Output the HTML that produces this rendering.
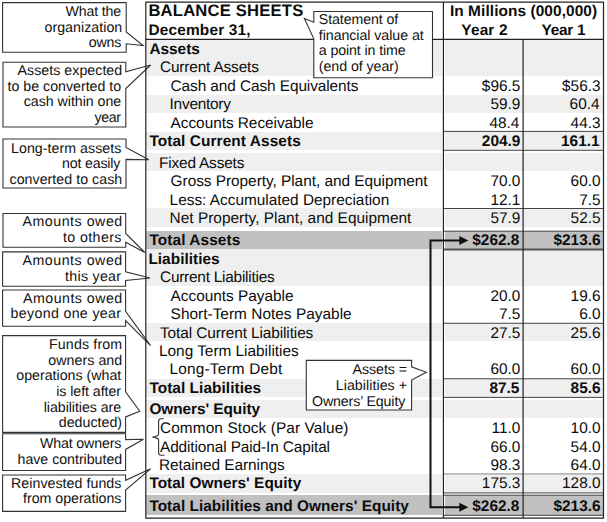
<!DOCTYPE html>
<html><head><meta charset="utf-8"><title>Balance Sheets</title>
<style>
html,body{margin:0;padding:0;background:#fff;}
body{text-rendering:geometricPrecision;width:607px;height:522px;position:relative;overflow:hidden;font-family:"Liberation Sans",sans-serif;color:#0c0c0c;}
.bg{position:absolute;left:146.4px;width:456.5px;}
.t{position:absolute;white-space:pre;font-size:15.4px;line-height:18px;height:18px;}
.b{font-weight:bold;}
.c{position:absolute;white-space:pre;font-size:14.2px;line-height:16px;height:16px;color:#111;}
svg{position:absolute;left:0;top:0;}
</style></head><body>

<div class="bg" style="top:40.0px;height:17.30px;background:#efefef"></div>
<div class="bg" style="top:57.3px;height:18.40px;background:#efefef"></div>
<div class="bg" style="top:94.6px;height:18.30px;background:#efefef"></div>
<div class="bg" style="top:131.5px;height:18.20px;background:#efefef"></div>
<div class="bg" style="top:152.8px;height:18.00px;background:#efefef"></div>
<div class="bg" style="top:208.4px;height:18.30px;background:#efefef"></div>
<div class="bg" style="top:231.25px;height:17.50px;background:#c0c0c0"></div>
<div class="bg" style="top:248.75px;height:18.75px;background:#efefef"></div>
<div class="bg" style="top:267.5px;height:18.75px;background:#efefef"></div>
<div class="bg" style="top:323.25px;height:18.00px;background:#efefef"></div>
<div class="bg" style="top:378.75px;height:18.05px;background:#efefef"></div>
<div class="bg" style="top:400px;height:18.00px;background:#efefef"></div>
<div class="bg" style="top:473.9px;height:18.70px;background:#efefef"></div>
<div class="bg" style="top:495.1px;height:20.40px;background:#c0c0c0"></div>
<div style="position:absolute;left:442.2px;top:40px;width:2.6px;height:476px;background:#fff"></div>
<div class="t b" style="font-size:16.6px;left:148.40px;top:2.00px;letter-spacing:0.211px">BALANCE SHEETS</div>
<div class="t b" style="left:148.40px;top:22.00px;letter-spacing:0.189px">December 31,</div>
<div class="t b" style="left:449.90px;top:3.00px;letter-spacing:0.091px">In Millions (000,000)</div>
<div class="t b" style="left:461.30px;top:22.00px;letter-spacing:0.180px">Year 2</div>
<div class="t b" style="left:541.60px;top:22.00px;letter-spacing:-0.280px">Year 1</div>
<div class="t b" style="left:149.40px;top:41.00px;letter-spacing:-0.014px">Assets</div>
<div class="t" style="left:160.00px;top:59.00px;letter-spacing:-0.161px">Current Assets</div>
<div class="t" style="left:170.60px;top:78.00px;letter-spacing:-0.087px">Cash and Cash Equivalents</div>
<div class="t" style="left:481.85px;top:78.00px">$96.5</div>
<div class="t" style="left:562.05px;top:78.00px">$56.3</div>
<div class="t" style="left:169.60px;top:96.00px;letter-spacing:-0.245px">Inventory</div>
<div class="t" style="left:490.40px;top:96.00px">59.9</div>
<div class="t" style="left:569.60px;top:96.00px">60.4</div>
<div class="t" style="left:170.60px;top:115.00px;letter-spacing:-0.042px">Accounts Receivable</div>
<div class="t" style="left:489.40px;top:115.00px">48.4</div>
<div class="t" style="left:570.60px;top:115.00px">44.3</div>
<div class="t b" style="left:149.40px;top:133.00px;letter-spacing:0.088px">Total Current Assets</div>
<div class="t b" style="left:481.85px;top:133.00px">204.9</div>
<div class="t b" style="left:561.05px;top:133.00px">161.1</div>
<div class="t" style="left:159.00px;top:155.00px;letter-spacing:-0.173px">Fixed Assets</div>
<div class="t" style="left:170.60px;top:173.00px;letter-spacing:-0.032px">Gross Property, Plant, and Equipment</div>
<div class="t" style="left:490.40px;top:173.00px">70.0</div>
<div class="t" style="left:570.60px;top:173.00px">60.0</div>
<div class="t" style="left:169.60px;top:192.00px;letter-spacing:-0.009px">Less: Accumulated Depreciation</div>
<div class="t" style="left:490.40px;top:192.00px">12.1</div>
<div class="t" style="left:579.16px;top:192.00px">7.5</div>
<div class="t" style="left:169.60px;top:210.00px;letter-spacing:0.025px">Net Property, Plant, and Equipment</div>
<div class="t" style="left:490.40px;top:210.00px">57.9</div>
<div class="t" style="left:570.60px;top:210.00px">52.5</div>
<div class="t b" style="left:149.40px;top:232.00px;letter-spacing:0.099px">Total Assets</div>
<div class="t b" style="left:472.29px;top:232.00px">$262.8</div>
<div class="t b" style="left:553.49px;top:232.00px">$213.6</div>
<div class="t b" style="left:148.40px;top:251.00px;letter-spacing:0.027px">Liabilities</div>
<div class="t" style="left:160.00px;top:269.00px;letter-spacing:-0.234px">Current Liabilities</div>
<div class="t" style="left:170.60px;top:288.00px;letter-spacing:-0.023px">Accounts Payable</div>
<div class="t" style="left:490.40px;top:288.00px">20.0</div>
<div class="t" style="left:570.60px;top:288.00px">19.6</div>
<div class="t" style="left:170.60px;top:306.00px;letter-spacing:0.025px">Short-Term Notes Payable</div>
<div class="t" style="left:498.96px;top:306.00px">7.5</div>
<div class="t" style="left:579.16px;top:306.00px">6.0</div>
<div class="t" style="left:160.00px;top:325.00px;letter-spacing:-0.100px">Total Current Liabilities</div>
<div class="t" style="left:490.40px;top:325.00px">27.5</div>
<div class="t" style="left:570.60px;top:325.00px">25.6</div>
<div class="t" style="left:159.00px;top:343.00px;letter-spacing:-0.015px">Long Term Liabilities</div>
<div class="t" style="left:169.60px;top:361.00px;letter-spacing:0.171px">Long-Term Debt</div>
<div class="t" style="left:490.40px;top:361.00px">60.0</div>
<div class="t" style="left:570.60px;top:361.00px">60.0</div>
<div class="t b" style="left:149.40px;top:380.00px;letter-spacing:0.055px">Total Liabilities</div>
<div class="t b" style="left:489.40px;top:380.00px">87.5</div>
<div class="t b" style="left:570.60px;top:380.00px">85.6</div>
<div class="t b" style="left:149.40px;top:401.00px;letter-spacing:-0.058px">Owners' Equity</div>
<div class="t" style="left:160.00px;top:420.00px;letter-spacing:0.098px">Common Stock (Par Value)</div>
<div class="t" style="left:491.55px;top:420.00px">11.0</div>
<div class="t" style="left:570.60px;top:420.00px">10.0</div>
<div class="t" style="left:160.00px;top:439.00px;letter-spacing:-0.112px">Additional Paid-In Capital</div>
<div class="t" style="left:490.40px;top:439.00px">66.0</div>
<div class="t" style="left:570.60px;top:439.00px">54.0</div>
<div class="t" style="left:159.00px;top:457.00px;letter-spacing:-0.064px">Retained Earnings</div>
<div class="t" style="left:490.40px;top:457.00px">98.3</div>
<div class="t" style="left:570.60px;top:457.00px">64.0</div>
<div class="t b" style="left:149.40px;top:475.00px;letter-spacing:0.029px">Total Owners' Equity</div>
<div class="t" style="left:481.85px;top:475.00px">175.3</div>
<div class="t" style="left:562.05px;top:475.00px">128.0</div>
<div class="t b" style="left:149.40px;top:498.00px;letter-spacing:0.036px">Total Liabilities and Owners' Equity</div>
<div class="t b" style="left:472.29px;top:498.00px">$262.8</div>
<div class="t b" style="left:553.49px;top:498.00px">$213.6</div>
<svg width="607" height="522" viewBox="0 0 607 522">
<g stroke="#444" fill="none" stroke-width="1">
<line x1="443.4" y1="131.4" x2="603.5" y2="131.4"/>
<line x1="443.4" y1="150.3" x2="603.5" y2="150.3"/>
<line x1="443.4" y1="208.5" x2="603.5" y2="208.5"/>
<line x1="443.4" y1="231.2" x2="603.5" y2="231.2"/>
<line x1="443.4" y1="323.25" x2="603.5" y2="323.25"/>
<line x1="443.4" y1="378.75" x2="603.5" y2="378.75"/>
<line x1="443.4" y1="397.4" x2="603.5" y2="397.4"/>
<line x1="443.4" y1="492.9" x2="603.5" y2="492.9"/>
<line x1="443.4" y1="495.2" x2="603.5" y2="495.2"/>
<line x1="443.4" y1="515.3" x2="603.5" y2="515.3"/>
<line x1="443.4" y1="473.9" x2="603.5" y2="473.9" stroke="#888"/>
<line x1="443.4" y1="249.5" x2="603.5" y2="249.5" stroke="#555" stroke-width="2.2"/>
</g>
<path d="M2.6,2.6 H126.2 V31.9 L143.1,45.6 L126.2,43.75 V52.3 H2.6 Z" fill="#fff" stroke="#333" stroke-width="1.1" stroke-linejoin="miter"/>
<path d="M3.0,62.25 H125.8 V71.9 L150.6,65.0 L125.8,88.5 V127.0 H3.0 Z" fill="#fff" stroke="#333" stroke-width="1.1" stroke-linejoin="miter"/>
<path d="M3.0,139.0 H126.0 V147.5 L148.75,159.7 L126.0,159.4 V188.0 H3.0 Z" fill="#fff" stroke="#333" stroke-width="1.1" stroke-linejoin="miter"/>
<path d="M3.0,213.5 H125.7 V233.5 L144.75,252.5 L125.7,242.25 V247.3 H3.0 Z" fill="#fff" stroke="#333" stroke-width="1.1" stroke-linejoin="miter"/>
<path d="M2.6,251.9 H125.6 V271.75 L150.0,278.0 L125.6,280.5 V286.2 H2.6 Z" fill="#fff" stroke="#333" stroke-width="1.1" stroke-linejoin="miter"/>
<path d="M2.6,290.0 H125.6 V311.3 L150.6,345.6 L125.6,320.6 V326.25 H2.6 Z" fill="#fff" stroke="#333" stroke-width="1.1" stroke-linejoin="miter"/>
<path d="M2.6,335.6 H125.6 V391.9 L139.75,411.25 L125.6,416.9 V432.4 H2.6 Z" fill="#fff" stroke="#333" stroke-width="1.1" stroke-linejoin="miter"/>
<path d="M2.6,433.8 H125.6 V439.6 L143.5,439.2 L125.6,449.4 V470.5 H2.6 Z" fill="#fff" stroke="#333" stroke-width="1.1" stroke-linejoin="miter"/>
<path d="M2.6,475.0 H125.6 V480.3 L150.6,468.8 L125.6,490.0 V511.4 H2.6 Z" fill="#fff" stroke="#333" stroke-width="1.1" stroke-linejoin="miter"/>
<path d="M313.8,11.5 H432.5 V77.8 H313.8 V38.75 L304.4,18.5 L313.8,22.25 Z" fill="#fff" stroke="#333" stroke-width="1.1"/>
<path d="M306.3,360.4 H411.6 V366.8 L426.3,372.3 L411.6,380 V410 H306.3 Z" fill="#fff" stroke="#333" stroke-width="1.1"/>
<path d="M163.8,418.8 H161 Q158.6,418.8 158.6,421.2 V433.8 Q158.6,436.6 152.4,437.1 Q158.6,437.6 158.6,440.4 V452.8 Q158.6,455.2 161,455.2 H164.4" fill="none" stroke="#333" stroke-width="1.1"/>
<g stroke="#222" fill="none" stroke-width="1.2">
<path d="M145.8,2.2 H603.5 V518.1 H145.8 Z"/>
<line x1="145.8" y1="39.4" x2="313.8" y2="39.4"/>
<line x1="432.5" y1="39.4" x2="603.5" y2="39.4"/>
<line x1="443.4" y1="2.2" x2="443.4" y2="518"/>
<line x1="523.1" y1="39.4" x2="523.1" y2="518"/>
</g>
<path d="M460,240.6 H430.5 V507.2 H460" fill="none" stroke="#111" stroke-width="2"/>
<path d="M468.4,240.6 L459.3,236.1 V245.1 Z" fill="#111"/>
<path d="M468.4,507.2 L459.3,502.7 V511.7 Z" fill="#111"/>
</svg>
<div class="c" style="left:65.50px;top:4.00px;letter-spacing:-0.155px">What the</div>
<div class="c" style="left:44.50px;top:20.00px;letter-spacing:0.036px">organization</div>
<div class="c" style="left:88.75px;top:35.00px;letter-spacing:-0.159px">owns</div>
<div class="c" style="left:17.50px;top:63.00px;letter-spacing:0.042px">Assets expected</div>
<div class="c" style="left:7.50px;top:79.00px;letter-spacing:0.007px">to be converted to</div>
<div class="c" style="left:23.75px;top:94.00px;letter-spacing:-0.025px">cash within one</div>
<div class="c" style="left:94.50px;top:110.00px;letter-spacing:-0.358px">year</div>
<div class="c" style="left:11.00px;top:141.00px;letter-spacing:0.052px">Long-term assets</div>
<div class="c" style="left:62.00px;top:156.00px;letter-spacing:-0.171px">not easily</div>
<div class="c" style="left:9.50px;top:172.00px;letter-spacing:0.044px">converted to cash</div>
<div class="c" style="left:22.50px;top:214.00px;letter-spacing:0.531px">Amounts owed</div>
<div class="c" style="left:63.00px;top:230.00px;letter-spacing:0.399px">to others</div>
<div class="c" style="left:22.50px;top:253.00px;letter-spacing:0.531px">Amounts owed</div>
<div class="c" style="left:65.00px;top:269.00px;letter-spacing:0.301px">this year</div>
<div class="c" style="left:23.00px;top:291.00px;letter-spacing:0.486px">Amounts owed</div>
<div class="c" style="left:10.50px;top:306.00px;letter-spacing:0.345px">beyond one year</div>
<div class="c" style="left:49.00px;top:337.00px;letter-spacing:0.152px">Funds from</div>
<div class="c" style="left:48.25px;top:353.00px;letter-spacing:0.066px">owners and</div>
<div class="c" style="left:16.25px;top:368.00px;letter-spacing:0.007px">operations (what</div>
<div class="c" style="left:56.25px;top:384.00px;letter-spacing:-0.056px">is left after</div>
<div class="c" style="left:43.75px;top:400.00px;letter-spacing:-0.045px">liabilities are</div>
<div class="c" style="left:58.75px;top:415.00px;letter-spacing:0.022px">deducted)</div>
<div class="c" style="left:40.00px;top:436.00px;letter-spacing:-0.140px">What owners</div>
<div class="c" style="left:17.50px;top:452.00px;letter-spacing:-0.014px">have contributed</div>
<div class="c" style="left:11.00px;top:476.00px;letter-spacing:0.051px">Reinvested funds</div>
<div class="c" style="left:23.00px;top:491.00px;letter-spacing:-0.013px">from operations</div>
<div class="c" style="left:318.80px;top:12.00px;letter-spacing:-0.095px">Statement of</div>
<div class="c" style="left:318.80px;top:28.00px;letter-spacing:-0.047px">financial value at</div>
<div class="c" style="left:318.80px;top:43.00px;letter-spacing:-0.106px">a point in time</div>
<div class="c" style="left:318.80px;top:59.00px;letter-spacing:-0.043px">(end of year)</div>
<div class="c" style="left:352.50px;top:362.00px;letter-spacing:-0.038px">Assets =</div>
<div class="c" style="left:335.75px;top:378.00px;letter-spacing:0.058px">Liabilities +</div>
<div class="c" style="left:312.00px;top:394.00px;letter-spacing:-0.120px">Owners’ Equity</div>
</body></html>
